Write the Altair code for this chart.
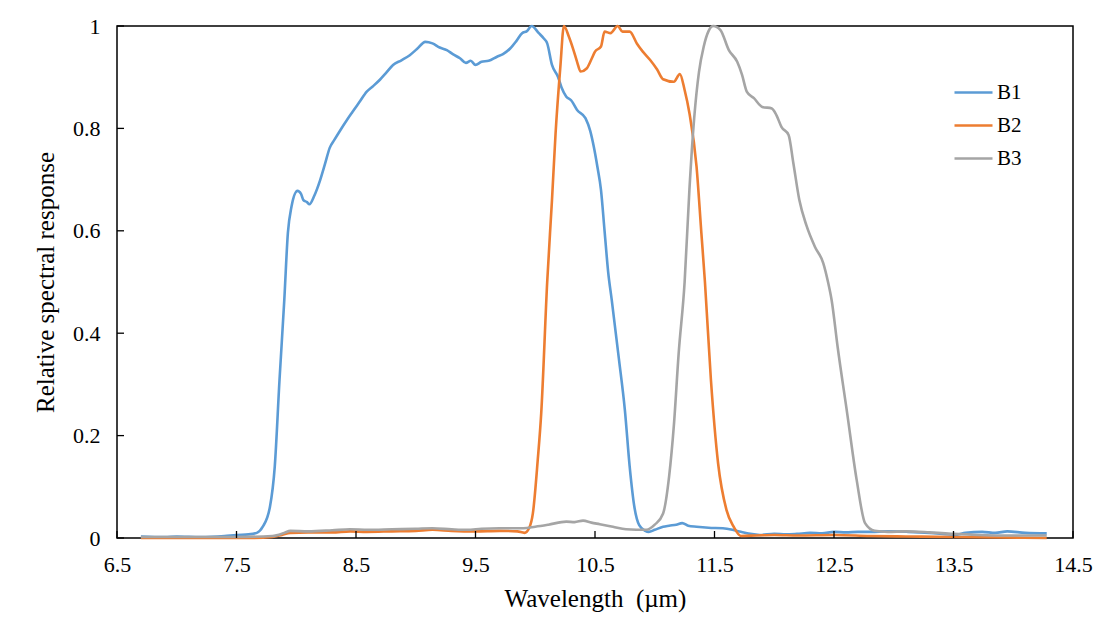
import altair as alt
import pandas as pd

# ---- data ----
wl_b1 = [6.7, 6.9, 7.0, 7.2, 7.4, 7.5, 7.6, 7.67, 7.72, 7.78, 7.82, 7.86, 7.90, 7.93, 7.96,
         8.01, 8.04, 8.06, 8.09, 8.11, 8.15, 8.20, 8.24, 8.28, 8.32, 8.37, 8.42, 8.47, 8.53,
         8.59, 8.64, 8.70, 8.75, 8.81, 8.88, 8.95, 9.01, 9.08, 9.14, 9.20, 9.26, 9.31, 9.37,
         9.42, 9.46, 9.50, 9.55, 9.61, 9.68, 9.73, 9.79, 9.84, 9.89, 9.93, 9.97, 10.03, 10.07,
         10.10, 10.14, 10.19, 10.22, 10.26, 10.30, 10.35, 10.42, 10.46, 10.49, 10.52, 10.55,
         10.58, 10.61, 10.64, 10.70, 10.75, 10.79, 10.83, 10.87, 10.92, 10.95, 11.0, 11.07,
         11.12, 11.18, 11.23, 11.28, 11.35, 11.45, 11.57, 11.65, 11.72, 11.80, 11.88, 12.0,
         12.1, 12.19, 12.3, 12.4, 12.5, 12.6, 12.7, 12.81, 12.95, 13.12, 13.3, 13.52, 13.6,
         13.74, 13.85, 13.95, 14.1, 14.28]
b1 = [0.003, 0.002, 0.003, 0.002, 0.004, 0.006, 0.007, 0.010, 0.022, 0.061, 0.139, 0.309,
      0.465, 0.596, 0.647, 0.678, 0.672, 0.660, 0.656, 0.652, 0.668, 0.699, 0.730, 0.762,
      0.778, 0.797, 0.815, 0.832, 0.852, 0.872, 0.882, 0.895, 0.908, 0.924, 0.933, 0.943,
      0.955, 0.969, 0.966, 0.958, 0.953, 0.945, 0.937, 0.928, 0.932, 0.924, 0.930, 0.932,
      0.940, 0.945, 0.956, 0.970, 0.986, 0.990, 1.0, 0.986, 0.976, 0.966, 0.924, 0.901,
      0.880, 0.862, 0.855, 0.836, 0.820, 0.795, 0.764, 0.725, 0.68, 0.60, 0.52, 0.465,
      0.35, 0.25, 0.14, 0.06, 0.025, 0.014, 0.012, 0.016, 0.022, 0.024, 0.026, 0.029,
      0.024, 0.022, 0.020, 0.019, 0.016, 0.012, 0.008, 0.006, 0.008, 0.007, 0.008, 0.010,
      0.009, 0.012, 0.011, 0.012, 0.012, 0.013, 0.012, 0.010, 0.006, 0.010, 0.012, 0.010,
      0.013, 0.010, 0.009]

wl_b2 = [6.7, 7.0, 7.3, 7.6, 7.80, 7.88, 7.95, 8.1, 8.3, 8.45, 8.59, 8.8, 9.0, 9.14, 9.3,
         9.5, 9.70, 9.85, 9.91, 9.95, 9.98, 10.02, 10.05, 10.10, 10.14, 10.17, 10.21, 10.24,
         10.28, 10.32, 10.35, 10.38, 10.43, 10.47, 10.50, 10.55, 10.58, 10.63, 10.69, 10.73,
         10.79, 10.85, 10.90, 10.96, 11.02, 11.07, 11.16, 11.21, 11.25, 11.29, 11.35, 11.39,
         11.42, 11.47, 11.53, 11.60, 11.66, 11.72, 11.85, 12.0, 12.2, 12.5, 12.8, 13.1, 13.5,
         13.9, 14.28]
b2 = [0.0, 0.0, 0.0, 0.0, 0.002, 0.006, 0.010, 0.011, 0.011, 0.013, 0.012, 0.013, 0.014,
      0.016, 0.014, 0.013, 0.014, 0.013, 0.010, 0.02, 0.048, 0.15, 0.244, 0.50, 0.66, 0.79,
      0.92, 1.0, 0.98, 0.953, 0.93, 0.911, 0.917, 0.935, 0.95, 0.96, 0.989, 0.986, 1.0,
      0.989, 0.989, 0.966, 0.95, 0.934, 0.915, 0.896, 0.891, 0.906, 0.875, 0.83, 0.725,
      0.596, 0.50, 0.309, 0.146, 0.055, 0.022, 0.004, 0.005, 0.006, 0.005, 0.006, 0.004,
      0.003, 0.002, 0.001, 0.0]

wl_b3 = [6.7, 7.0, 7.5, 7.8, 7.9, 7.95, 8.1, 8.3, 8.45, 8.6, 8.8, 9.0, 9.14, 9.3, 9.43,
         9.55, 9.70, 9.90, 10.0, 10.11, 10.26, 10.33, 10.40, 10.47, 10.54, 10.65, 10.76,
         10.93, 11.0, 11.07, 11.12, 11.16, 11.20, 11.25, 11.29, 11.33, 11.37, 11.41, 11.45,
         11.49, 11.55, 11.62, 11.69, 11.73, 11.77, 11.83, 11.90, 11.98, 12.02, 12.06, 12.12,
         12.16, 12.21, 12.27, 12.34, 12.41, 12.45, 12.48, 12.53, 12.61, 12.69, 12.76, 12.84,
         12.95, 13.1, 13.3, 13.5, 13.7, 14.0, 14.28]
b3 = [0.002, 0.002, 0.002, 0.004, 0.010, 0.014, 0.013, 0.015, 0.017, 0.016, 0.017, 0.018,
      0.019, 0.017, 0.016, 0.018, 0.019, 0.019, 0.022, 0.026, 0.032, 0.031, 0.034, 0.030,
      0.027, 0.022, 0.017, 0.016, 0.026, 0.048, 0.12, 0.22, 0.36, 0.50, 0.68, 0.82, 0.91,
      0.96, 0.99, 1.0, 0.992, 0.953, 0.93, 0.905, 0.872, 0.859, 0.842, 0.839, 0.825, 0.803,
      0.787, 0.732, 0.66, 0.61, 0.569, 0.537, 0.50, 0.465, 0.374, 0.244, 0.113, 0.029,
      0.014, 0.012, 0.013, 0.011, 0.008, 0.006, 0.005, 0.005]

bands = ["B1", "B2", "B3"]
colors = ["#5B9BD5", "#ED7D31", "#A5A5A5"]
x_ticks = [6.5, 7.5, 8.5, 9.5, 10.5, 11.5, 12.5, 13.5, 14.5]
y_ticks = [0, 0.2, 0.4, 0.6, 0.8, 1]

rows = []
for name, xs, ys in [("B1", wl_b1, b1), ("B2", wl_b2, b2), ("B3", wl_b3, b3)]:
    for i, (xv, yv) in enumerate(zip(xs, ys)):
        rows.append({"band": name, "wl": xv, "resp": yv, "order": i})
df = pd.DataFrame(rows)

FONT = "Liberation Serif, Times New Roman, Times, serif"
xscale = alt.Scale(domain=[6.5, 14.5], nice=False, zero=False)
yscale = alt.Scale(domain=[0, 1], nice=False, zero=False)

lines = alt.Chart(df).mark_line(strokeWidth=2.6, interpolate="monotone").encode(
    x=alt.X("wl:Q", scale=xscale,
            axis=alt.Axis(values=x_ticks, format=".1f", title="Wavelength\u00a0 (\u00b5m)",
                          ticks=False, domain=False, grid=False, labelPadding=16,
                          labelFlush=False, labelOverlap=False,
                          labelFontSize=22, titleFontSize=25, titlePadding=11,
                          labelFont=FONT, titleFont=FONT, labelColor="black",
                          titleColor="black", titleFontWeight="normal")),
    y=alt.Y("resp:Q", scale=yscale,
            axis=alt.Axis(values=y_ticks, labelExpr="datum.value + ''",
                          title="Relative spectral response",
                          ticks=False, domain=False, grid=False, labelPadding=17,
                          labelFlush=False, labelOverlap=False,
                          labelFontSize=22, titleFontSize=25, titlePadding=14,
                          labelFont=FONT, titleFont=FONT, labelColor="black",
                          titleColor="black", titleFontWeight="normal")),
    color=alt.Color("band:N", scale=alt.Scale(domain=bands, range=colors),
                    legend=alt.Legend(title=None, orient="none", legendX=836, legendY=46,
                                      symbolType="stroke", symbolSize=1444,
                                      symbolStrokeWidth=2.6, labelFontSize=21,
                                      labelFont=FONT, labelColor="black",
                                      labelOffset=3, rowPadding=2)),
    order="order:Q",
)

xt = pd.DataFrame({"v": x_ticks})
yt = pd.DataFrame({"v": y_ticks})
xtick_marks = alt.Chart(xt).mark_rule(color="black", strokeWidth=1.3).encode(
    x=alt.X("v:Q", scale=xscale), y=alt.value(512), y2=alt.value(505))
ytick_marks = alt.Chart(yt).mark_rule(color="black", strokeWidth=1.3).encode(
    y=alt.Y("v:Q", scale=yscale), x=alt.value(0), x2=alt.value(7))

chart = alt.layer(lines, xtick_marks, ytick_marks).properties(
    width=956, height=512,
    background="white",
    autosize=alt.AutoSizeParams(type="none"),
    padding={"left": 109, "top": 18, "right": 27, "bottom": 90},
).configure_view(stroke="black", strokeWidth=1.5)

chart.save("out.html", embed_options={"renderer": "svg", "actions": False})
